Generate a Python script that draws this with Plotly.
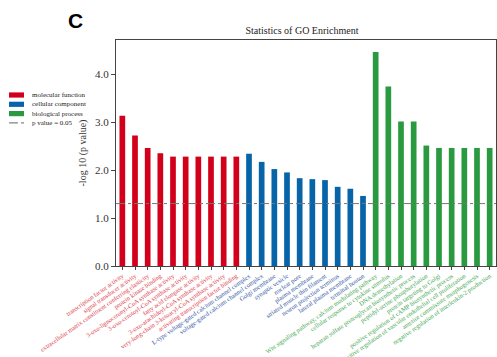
import numpy as np
import plotly.graph_objects as go

# ---------------- data ----------------
mf_terms = [
    "transcription factor activity",
    "signal transducer activity",
    "extracellular matrix constituent conferring elasticity",
    "protein kinase binding",
    "3-oxo-lignoceronyl-CoA synthase activity",
    "3-oxo-cerotoyl-CoA synthase activity",
    "fatty acid elongase activity",
    "3-oxo-arachidoyl-CoA synthase activity",
    "very-long-chain 3-ketoacyl-CoA synthase activity",
    "activating transcription factor binding",
]
mf_values = [3.13, 2.72, 2.46, 2.35, 2.28, 2.28, 2.28, 2.28, 2.28, 2.28]

cc_terms = [
    "L-type voltage-gated calcium channel complex",
    "voltage-gated calcium channel complex",
    "Golgi membrane",
    "synaptic vesicle",
    "nuclear pore",
    "plasma membrane",
    "striated muscle thin filament",
    "neuron projection terminus",
    "lateral plasma membrane",
    "terminal bouton",
]
cc_values = [2.34, 2.17, 2.02, 1.95, 1.83, 1.81, 1.79, 1.65, 1.61, 1.46]

bp_terms = [
    "Wnt signaling pathway, calcium modulating pathway",
    "cellular response to cytokine stimulus",
    "DNA demethylation",
    "heparan sulfate proteoglycan biosynthetic process",
    "peptidyl-serine phosphorylation",
    "protein targeting to Golgi",
    "positive regulation of cAMP biosynthetic process",
    "positive regulation of vascular endothelial cell proliferation",
    "anterior commissure morphogenesis",
    "negative regulation of interleukin-2 production",
]
bp_values = [4.46, 3.74, 3.01, 3.01, 2.51, 2.46, 2.46, 2.46, 2.46, 2.46]

group_names = ["molecular function", "cellular component", "biological process"]
y_ticks = [0.0, 1.0, 2.0, 3.0, 4.0]
p_cutoff = 0.05
threshold = -np.log10(p_cutoff)

# ---------------- style ----------------
W, H = 497, 357
L, R, T, B = 116, 496, 40, 266
bar_colors = ["#d3001c", "#0864a8", "#2a9a40"]
label_colors = ["#dc3a48", "#2f55a4", "#3ea64e"]
serif = "Liberation Serif, Times New Roman, serif"

groups = [(mf_terms, mf_values), (cc_terms, cc_values), (bp_terms, bp_values)]
all_terms = mf_terms + cc_terms + bp_terms

fig = go.Figure()
for (terms, vals), name, col in zip(groups, group_names, bar_colors):
    fig.add_trace(go.Bar(x=terms, y=vals, name=name, marker_color=col,
                         marker_line_width=0, width=0.45, showlegend=False))

ticktext = []
for (terms, _), lc in zip(groups, label_colors):
    for t in terms:
        ticktext.append(f"<span style='color:{lc}'>{t}</span>")

def px(x):
    return (x - L) / (R - L)

def py(y):
    return (B - y) / (B - T)

shapes = [
    dict(type="line", xref="paper", yref="y", x0=0, x1=1, y0=threshold, y1=threshold,
         line=dict(color="#777777", width=1, dash="dashdot")),
]
annotations = [
    dict(text="<b>C</b>", xref="paper", yref="paper", x=px(75), y=py(21),
         showarrow=False, font=dict(family="Liberation Sans, Arial", size=21, color="black"),
         xanchor="center", yanchor="middle"),
]
leg_y = [95, 104.3, 113.6, 122.9]
for i, (name, col) in enumerate(zip(group_names, bar_colors)):
    shapes.append(dict(type="rect", xref="paper", yref="paper",
                       x0=px(9), x1=px(24), y0=py(leg_y[i] - 2.6), y1=py(leg_y[i] + 2.6),
                       fillcolor=col, line=dict(width=0)))
    annotations.append(dict(text=name, xref="paper", yref="paper", x=px(30), y=py(leg_y[i]),
                            showarrow=False, xanchor="left", yanchor="middle",
                            font=dict(family=serif, size=7, color="#222")))
shapes.append(dict(type="line", xref="paper", yref="paper", x0=px(9), x1=px(24),
                   y0=py(leg_y[3]), y1=py(leg_y[3]),
                   line=dict(color="#666", width=1, dash="dashdot")))
annotations.append(dict(text=f"p value = {p_cutoff}", xref="paper", yref="paper", x=px(30),
                        y=py(leg_y[3]), showarrow=False, xanchor="left", yanchor="middle",
                        font=dict(family=serif, size=7, color="#222")))

fig.update_layout(
    width=W, height=H,
    margin=dict(l=L, r=W - R, t=T, b=H - B, autoexpand=False),
    paper_bgcolor="white", plot_bgcolor="white",
    title=dict(text="Statistics of GO Enrichment", xref="container", x=302 / W,
               yref="container", y=1 - 30 / H,
               xanchor="center", yanchor="middle",
               font=dict(family=serif, size=10, color="#222")),
    bargap=0.5,
    shapes=shapes, annotations=annotations,
    xaxis=dict(tickmode="array", tickvals=all_terms, ticktext=ticktext, tickangle=-35,
               tickfont=dict(family=serif, size=6.3), ticks="outside", ticklen=3,
               tickcolor="#444", showline=True, mirror=True, linecolor="#444", linewidth=1,
               showgrid=False, automargin=False),
    yaxis=dict(range=[0, 4.71], tickvals=y_ticks, tickformat=".1f", ticks="outside",
               ticklen=4, tickcolor="#444", showline=True, mirror=True, linecolor="#444",
               linewidth=1, showgrid=False, zeroline=False,
               tickfont=dict(family=serif, size=11, color="#333"),
               title=dict(text="-log 10 (p value)", font=dict(family=serif, size=10, color="#333"),
                          standoff=6),
               automargin=False),
)

fig.write_html("out.html")
